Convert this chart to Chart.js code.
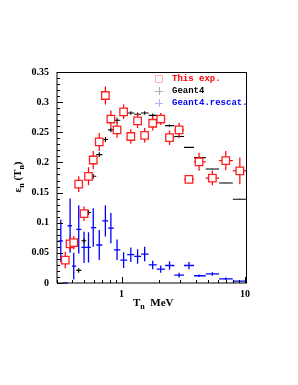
<!DOCTYPE html>
<html>
<head>
<meta charset="utf-8">
<script src="https://cdn.jsdelivr.net/npm/chart.js@4.4.0/dist/chart.umd.min.js"></script>
<style>
  body { margin: 0; background: #fff; }
  #wrap { width: 298px; height: 385px; }
</style>
</head>
<body>
<div id="wrap"><canvas id="grafica"></canvas></div>
<script>
// bin centres (MeV)
const energias = [0.322, 0.35, 0.383, 0.41, 0.45, 0.497, 0.54, 0.59, 0.66, 0.74, 0.82, 0.92, 1.04,
  1.19, 1.35, 1.54, 1.79, 2.08, 2.45, 2.93, 3.52, 4.25, 5.45, 7.0, 9.1];

// This exp.
const expEff = [null, 0.038, 0.065, 0.067, 0.164, 0.115, 0.177, 0.204, 0.234, 0.311, 0.272, 0.254, 0.284,
  0.243, 0.269, 0.245, 0.265, 0.272, 0.241, 0.254, 0.172, 0.201, 0.174, 0.203, 0.186];
const expErr = [0, 0.014, 0.011, 0.011, 0.013, 0.012, 0.015, 0.015, 0.015, 0.015, 0.014, 0.013, 0.012,
  0.012, 0.012, 0.012, 0.012, 0.010, 0.012, 0.012, 0.007, 0.015, 0.012, 0.016, 0.022];

// Geant4
const g4Eff = [null, null, null, null, 0.021, 0.070, 0.117, 0.177, 0.213, 0.238, 0.254, 0.270, 0.279,
  0.282, 0.280, 0.282, 0.278, 0.272, 0.261, 0.243, 0.225, 0.208, 0.189, 0.166, 0.139];
const g4Err = [0, 0, 0, 0, 0.004, 0.004, 0.004, 0.004, 0.004, 0.004, 0.004, 0.004, 0.004,
  0.003, 0.003, 0.003, 0.003, 0.002, 0.002, 0.002, 0.001, 0.001, 0.001, 0.001, 0.001];

// Geant4.rescat.
const rescEff = [0.070, 0, 0.095, 0.028, 0.089, 0.059, 0.059, 0.092, 0.063, 0.103, 0.091, 0.055, 0.038,
  0.047, 0.044, 0.048, 0.030, 0.023, 0.029, 0.013, 0.029, 0.012, 0.015, 0.007, 0.003];
const rescErr = [0.035, 0, 0.045, 0.022, 0.040, 0.026, 0.025, 0.032, 0.025, 0.026, 0.025, 0.017, 0.013,
  0.012, 0.012, 0.012, 0.007, 0.006, 0.007, 0.004, 0.006, 0.002, 0.003, 0.002, 0.001];

const etiquetas = ["This exp.", "Geant4", "Geant4.rescat."];
const ticksY = [0, 0.05, 0.1, 0.15, 0.2, 0.25, 0.3, 0.35];
const ticksXMayores = [1, 10];
const ticksXMenores = [0.3, 0.4, 0.5, 0.6, 0.7, 0.8, 0.9, 2, 3, 4, 5, 6, 7, 8, 9];

// bin edges from geometric midpoints
const bordes = energias.slice(0, -1).map((e, i) => Math.sqrt(e * energias[i + 1]));
const binLo = energias.map((e, i) => i === 0 ? e * e / bordes[0] : bordes[i - 1]);
const binHi = energias.map((e, i) => i === energias.length - 1 ? e * e / bordes[i - 1] : bordes[i]);

function puntos(valores) {
  return energias.map((e, i) => ({ x: e, y: valores[i] })).filter(p => p.y !== null);
}
function filtrar(arr, valores) {
  return arr.filter((v, i) => valores[i] !== null);
}

const barrasError = {
  id: "barrasError",
  beforeDatasetDraw(chart, args) {
    const ds = chart.data.datasets[args.index];
    if (!ds.errY) return;
    const { ctx, chartArea: a, scales: { x, y } } = chart;
    ctx.save();
    ctx.beginPath();
    ctx.rect(a.left, a.top - 2, a.right - a.left, a.bottom - a.top + 4);
    ctx.clip();
    ctx.strokeStyle = ds.colorBarra;
    ctx.lineWidth = ds.anchoBarra;
    ds.data.forEach((p, i) => {
      const px = x.getPixelForValue(p.x), py = y.getPixelForValue(p.y);
      const x0 = x.getPixelForValue(ds.xLo[i]), x1 = x.getPixelForValue(ds.xHi[i]);
      const y0 = y.getPixelForValue(p.y - ds.errY[i]), y1 = y.getPixelForValue(p.y + ds.errY[i]);
      ctx.beginPath();
      ctx.moveTo(x0, py); ctx.lineTo(x1, py);
      ctx.moveTo(px, y0); ctx.lineTo(px, y1);
      ctx.stroke();
    });
    ctx.restore();
  }
};

function conSubindices(ctx, partes, x, base, medir) {
  let w = 0;
  partes.forEach(([t, sub]) => {
    ctx.font = sub ? "bold 8px 'Liberation Serif'" : "bold 11px 'Liberation Serif'";
    if (!medir) ctx.fillText(t, x + w, base + (sub ? 3 : 0));
    w += ctx.measureText(t).width;
  });
  return w;
}

const marco = {
  id: "marco",
  afterDraw(chart) {
    const { ctx, chartArea: a, scales: { x, y } } = chart;
    ctx.save();
    ctx.strokeStyle = "#000";
    ctx.lineWidth = 1;
    ctx.beginPath();
    ctx.moveTo(a.left, a.top + 0.5); ctx.lineTo(a.right, a.top + 0.5);
    ctx.moveTo(a.right - 0.5, a.top); ctx.lineTo(a.right - 0.5, a.bottom);
    ctx.stroke();
    ctx.beginPath();
    ctx.moveTo(a.left, a.top); ctx.lineTo(a.left, a.bottom);
    ctx.moveTo(a.left, a.bottom); ctx.lineTo(a.right, a.bottom);
    ctx.stroke();

    // ticks inside the frame
    ctx.beginPath();
    for (let k = 0; k <= 35; k++) {
      const py = Math.round(y.getPixelForValue(k / 100)) + 0.5;
      const len = k % 5 === 0 ? 6 : 3;
      ctx.moveTo(a.left, py); ctx.lineTo(a.left + len, py);
    }
    ticksXMayores.forEach(v => {
      const px = Math.round(x.getPixelForValue(v)) + 0.5;
      ctx.moveTo(px, a.bottom); ctx.lineTo(px, a.bottom - 6);
    });
    ticksXMenores.forEach(v => {
      const px = Math.round(x.getPixelForValue(v)) + 0.5;
      ctx.moveTo(px, a.bottom); ctx.lineTo(px, a.bottom - 3);
    });
    ctx.stroke();

    // axis titles
    ctx.fillStyle = "#000";
    ctx.textBaseline = "alphabetic";
    conSubindices(ctx, [["T", false], ["n", true], ["  MeV", false]], 133, 306, false);

    const partesY = [["\u03b5", false], ["n", true], [" (T", false], ["n", true], [")", false]];
    const w = conSubindices(ctx, partesY, 0, 0, true);
    ctx.save();
    ctx.translate(21, 177);
    ctx.rotate(-Math.PI / 2);
    conSubindices(ctx, partesY, -w / 2, 0, false);
    ctx.restore();

    // legend
    const colores = ["#ff0000", "#000000", "#0000ff"];
    const palidos = ["#ffb0b0", "#b0b0b0", "#b0b0ff"];
    ctx.font = "bold 9px 'Liberation Mono'";
    ctx.textBaseline = "middle";
    etiquetas.forEach((t, i) => {
      const ly = 79 + i * 12;
      ctx.strokeStyle = palidos[i];
      ctx.lineWidth = 1;
      ctx.beginPath();
      if (i === 0) {
        ctx.rect(155.5, ly - 3.5, 7, 7);
      } else {
        ctx.moveTo(155, ly + 0.5); ctx.lineTo(163, ly + 0.5);
        ctx.moveTo(159.5, ly - 4); ctx.lineTo(159.5, ly + 4);
      }
      ctx.stroke();
      ctx.fillStyle = colores[i];
      ctx.fillText(t, 172, ly);
    });
    ctx.restore();
  }
};

new Chart(document.getElementById("grafica"), {
  type: "scatter",
  data: {
    datasets: [
      {
        label: etiquetas[0],
        data: puntos(expEff),
        errY: filtrar(expErr, expEff),
        xLo: filtrar(binLo, expEff),
        xHi: filtrar(binHi, expEff),
        colorBarra: "#ff0000",
        anchoBarra: 1.2,
        pointStyle: "rect",
        pointRadius: 5.3,
        pointBorderColor: "#ff2020",
        pointBackgroundColor: "#ffffff",
        pointBorderWidth: 1.3
      },
      {
        label: etiquetas[1],
        data: puntos(g4Eff),
        errY: filtrar(g4Err, g4Eff),
        xLo: filtrar(binLo, g4Eff),
        xHi: filtrar(binHi, g4Eff),
        colorBarra: "#000000",
        anchoBarra: 1.1,
        pointRadius: 0
      },
      {
        label: etiquetas[2],
        data: puntos(rescEff),
        errY: rescErr,
        xLo: binLo,
        xHi: binHi,
        colorBarra: "#0000ff",
        anchoBarra: 1.3,
        pointRadius: 0
      }
    ]
  },
  options: {
    responsive: true,
    maintainAspectRatio: false,
    animation: false,
    events: [],
    layout: { padding: { left: 0, right: 51, top: 72, bottom: 0 } },
    plugins: { legend: { display: false }, tooltip: { enabled: false } },
    scales: {
      x: {
        type: "logarithmic",
        min: 0.3,
        max: 10.4,
        afterFit(s) { s.height = 102; },
        grid: { display: false, drawTicks: false },
        border: { display: false },
        ticks: {
          autoSkip: false,
          maxRotation: 0,
          padding: 5,
          color: "#000",
          font: { family: "'Liberation Serif'", weight: "bold", size: 10 },
          callback: v => ticksXMayores.includes(v) ? String(v) : ""
        }
      },
      y: {
        min: 0,
        max: 0.35,
        afterFit(s) { s.width = 57; },
        afterBuildTicks(s) { s.ticks = ticksY.map(v => ({ value: v })); },
        grid: { display: false, drawTicks: false },
        border: { display: false },
        ticks: {
          padding: 8,
          color: "#000",
          font: { family: "'Liberation Serif'", weight: "bold", size: 10 },
          callback: v => String(+v.toFixed(2))
        }
      }
    }
  },
  plugins: [barrasError, marco]
});
</script>
</body>
</html>
